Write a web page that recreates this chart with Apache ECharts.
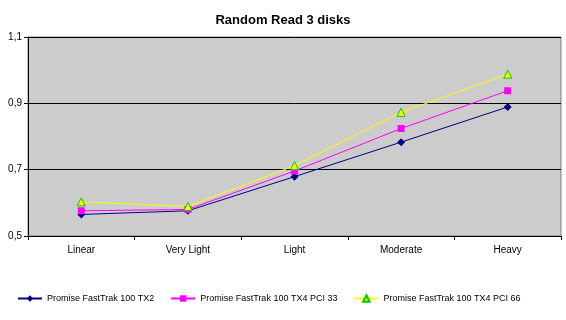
<!DOCTYPE html>
<html><head><meta charset="utf-8">
<script src="https://cdn.jsdelivr.net/npm/echarts@6/dist/echarts.min.js"></script>
<style>html,body{margin:0;padding:0;background:#fff}#c{width:566px;height:320px}</style>
</head><body><div id="c"></div>
<script>
const categories = ["Linear", "Very Light", "Light", "Moderate", "Heavy"];
const seriesNames = ["Promise FastTrak 100 TX2", "Promise FastTrak 100 TX4 PCI 33", "Promise FastTrak 100 TX4 PCI 66"];
const tx2 = [0.565, 0.576, 0.679, 0.783, 0.889];
const pci33 = [0.576, 0.580, 0.696, 0.824, 0.938];
const pci66 = [0.603, 0.589, 0.712, 0.873, 0.988];
const yMin = 0.5, yMax = 1.1, yStep = 0.2;

const chart = echarts.init(document.getElementById('c'));
const font = 'Liberation Sans, Arial, sans-serif';
chart.setOption({
  animation: false,
  title: { text: 'Random Read 3 disks', left: 'center', top: 9,
    textStyle: { fontFamily: font, fontSize: 13, fontWeight: 'bold', color: '#000' } },
  grid: { left: 28, right: 5, top: 37, bottom: 84, show: true, backgroundColor: '#cccccc', borderColor: '#808080', borderWidth: 1 },
  xAxis: { type: 'category', data: categories, boundaryGap: true,
    axisLine: { lineStyle: { color: '#000' } },
    axisTick: { show: true, length: 4, lineStyle: { color: '#000' } },
    axisLabel: { fontFamily: font, fontSize: 10, color: '#000', margin: 9 } },
  yAxis: { type: 'value', min: yMin, max: yMax, interval: yStep,
    axisLine: { show: true, lineStyle: { color: '#000' } },
    axisTick: { show: true, length: 4, lineStyle: { color: '#000' } },
    splitLine: { lineStyle: { color: '#000', width: 1 } },
    axisLabel: { fontFamily: font, fontSize: 10, color: '#000', margin: 6,
      formatter: v => v.toFixed(1).replace('.', ',') } },
  legend: { top: 289, left: 12, width: 554, itemGap: 16, itemWidth: 24, itemHeight: 8,
    orient: 'horizontal',
    textStyle: { fontFamily: font, fontSize: 9, color: '#000' },
    data: seriesNames },
  series: [
    { name: seriesNames[0], type: 'line', data: tx2, symbol: 'diamond', symbolSize: 8,
      itemStyle: { color: '#000080' }, lineStyle: { color: '#000080', width: 1 } },
    { name: seriesNames[1], type: 'line', data: pci33, symbol: 'rect', symbolSize: 7,
      itemStyle: { color: '#ff00ff' }, lineStyle: { color: '#ff00ff', width: 1 } },
    { name: seriesNames[2], type: 'line', data: pci66, symbol: 'triangle', symbolSize: 8,
      itemStyle: { color: '#ffff00', borderColor: '#00cc00', borderWidth: 1 }, lineStyle: { color: '#ffff00', width: 1 } }
  ]
});
</script></body></html>
